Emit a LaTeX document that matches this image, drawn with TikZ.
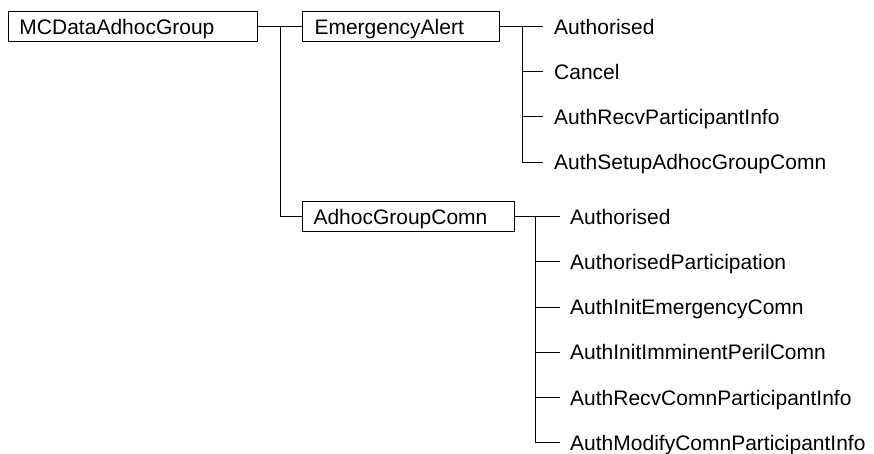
\documentclass[tikz,border=0pt]{standalone}
\usepackage{fontspec}
\setmainfont{Liberation Sans}
\begin{document}
\begin{tikzpicture}[x=1pt,y=-1pt,
  conn/.style={draw=black,line width=1pt},
  boxnode/.style={draw=black,line width=1pt,anchor=west,align=left,
    minimum height=30pt,inner ysep=0pt,text height=15pt,text depth=0pt,
    font=\fontsize{21}{24}\selectfont},
  leaf/.style={anchor=west,inner xsep=11pt,inner ysep=0pt,
    text height=15pt,text depth=0pt,font=\fontsize{21}{24}\selectfont}]
\useasboundingbox (0,0) rectangle (874,454);
% boxes
\node[boxnode,inner xsep=11pt,text width=227pt] (b1) at (8,27) {MCDataAdhocGroup};
\node[boxnode,inner xsep=12pt,text width=173pt] (b2) at (302,27) {EmergencyAlert};
\node[boxnode,inner xsep=11pt,text width=190pt] (b3) at (302,216.5) {AdhocGroupComn};
% EmergencyAlert leaves
\node[leaf] (e1) at (543,27) {Authorised};
\node[leaf] (e2) at (543,71.7) {Cancel};
\node[leaf] (e3) at (543,116.9) {AuthRecvParticipantInfo};
\node[leaf] (e4) at (543,162.1) {AuthSetupAdhocGroupComn};
% AdhocGroupComn leaves
\node[leaf,inner xsep=10pt] (a1) at (560,216.5) {Authorised};
\node[leaf,inner xsep=10pt] (a2) at (560,261.8) {AuthorisedParticipation};
\node[leaf,inner xsep=10pt] (a3) at (560,307) {AuthInitEmergencyComn};
\node[leaf,inner xsep=10pt] (a4) at (560,352.3) {AuthInitImminentPerilComn};
\node[leaf,inner xsep=10pt] (a5) at (560,397.5) {AuthRecvComnParticipantInfo};
\node[leaf,inner xsep=10pt] (a6) at (560,442.8) {AuthModifyComnParticipantInfo};
% junctions
\coordinate (j1) at (280,27);
\coordinate (j2) at (522,27);
\coordinate (j3) at (535,216.5);
% connectors level 1
\draw[conn] (b1.east) -- (b2.west);
\draw[conn] (j1) |- (b3.west);
% EmergencyAlert branch
\draw[conn] (b2.east) -- (e1.west);
\draw[conn] (j2) |- (e4.west);
\draw[conn] (j2 |- e2.west) -- (e2.west);
\draw[conn] (j2 |- e3.west) -- (e3.west);
% AdhocGroupComn branch
\draw[conn] (b3.east) -- (a1.west);
\draw[conn] (j3) |- (a6.west);
\draw[conn] (j3 |- a2.west) -- (a2.west);
\draw[conn] (j3 |- a3.west) -- (a3.west);
\draw[conn] (j3 |- a4.west) -- (a4.west);
\draw[conn] (j3 |- a5.west) -- (a5.west);
\end{tikzpicture}
\end{document}
